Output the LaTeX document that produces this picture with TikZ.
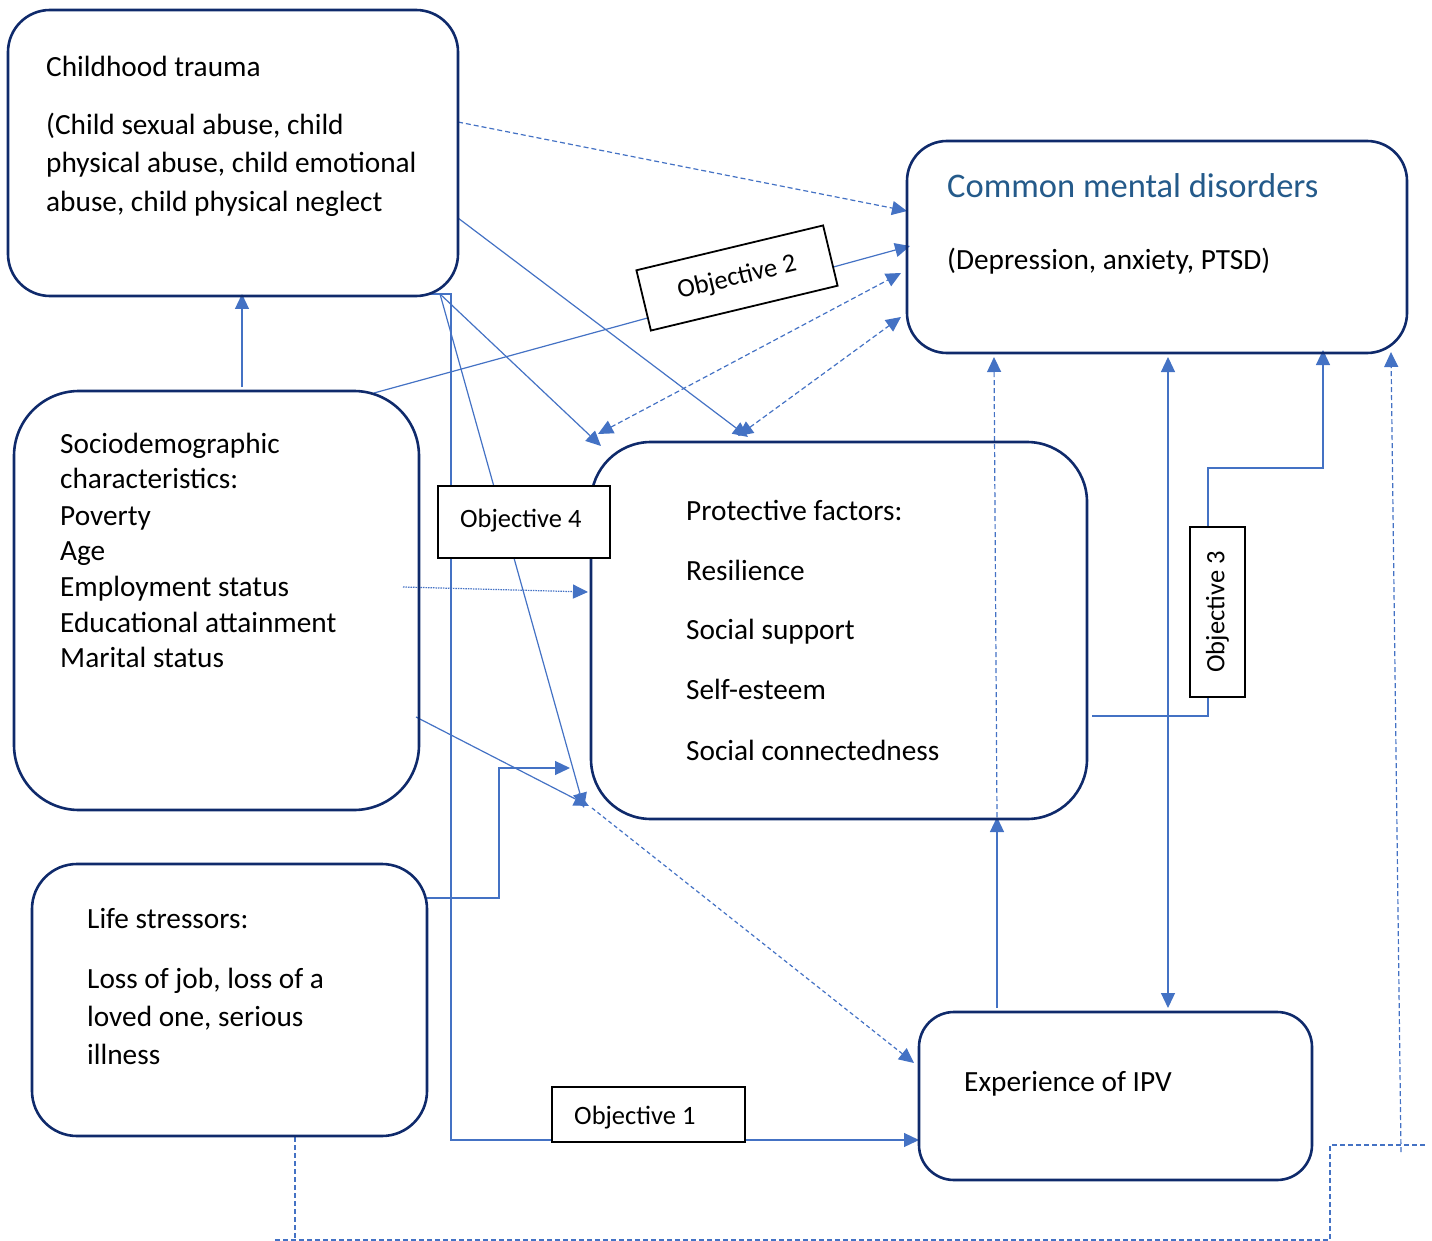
\documentclass[tikz,border=0pt]{standalone}
\usepackage{fontspec}
\setmainfont{Carlito}
\usetikzlibrary{arrows.meta}
\pgfdeclarelayer{background}
\pgfsetlayers{background,main}
\definecolor{navy}{HTML}{0F2A6B}
\definecolor{lblue}{HTML}{4472C4}
\definecolor{headblue}{HTML}{245A8A}
\begin{document}
\begin{tikzpicture}[x=1pt,y=-1pt,
  bigbox/.style={draw=navy, line width=2.6pt, inner sep=0pt},
  txt/.style={anchor=base west, inner sep=0pt, font=\fontsize{29.3}{35}\selectfont},
  objbox/.style={draw=black, line width=1.8pt, fill=white, inner sep=0pt, font=\fontsize{26.5}{32}\selectfont},
  objtxt/.style={anchor=base west, inner sep=0pt, font=\fontsize{26.5}{32}\selectfont},
  conn/.style={draw=lblue, line width=1.2pt, -{Triangle[length=15pt,width=14pt]}},
  biconn/.style={draw=lblue, line width=1.2pt, {Triangle[length=15pt,width=14pt]}-{Triangle[length=15pt,width=14pt]}},
  dashy/.style={dash pattern=on 5pt off 3pt},
  finedash/.style={dash pattern=on 4pt off 3pt},
  dotty/.style={dash pattern=on 1.5pt off 1pt},
  dline/.style={draw=lblue, line width=1.2pt, dash pattern=on 5pt off 3pt}
]
\useasboundingbox (0,0) rectangle (1432,1241);

% main boxes
\node[bigbox, rounded corners=42pt, minimum width=450pt, minimum height=286pt] (ct) at (233,153) {};
\node[bigbox, rounded corners=40pt, minimum width=500pt, minimum height=212pt] (cmd) at (1157,247) {};
\node[bigbox, rounded corners=65pt, minimum width=405pt, minimum height=419pt] (so) at (216.5,600.5) {};
\node[bigbox, rounded corners=60pt, minimum width=496pt, minimum height=377pt] (pr) at (839,630.5) {};
\node[bigbox, rounded corners=45pt, minimum width=395pt, minimum height=272pt] (ls) at (229.5,1000) {};
\node[bigbox, rounded corners=35pt, minimum width=393pt, minimum height=168pt] (ipv) at (1115.5,1096) {};

% texts
\node[txt] (ct0) at (46,77) {Childhood trauma};
\node[txt] (ct1) at (46,135) {(Child sexual abuse, child};
\node[txt] (ct2) at (46,173) {physical abuse, child emotional};
\node[txt] (ct3) at (46,212) {abuse, child physical neglect};

\node[txt, font=\fontsize{34.5}{40}\selectfont, text=headblue] (cmd0) at (947,198) {Common mental disorders};
\node[txt] (cmd1) at (947,270) {(Depression, anxiety, PTSD)};

\node[txt] (so0) at (60,453) {Sociodemographic};
\node[txt] (so1) at (60,488) {characteristics:};
\node[txt] (so2) at (60,525) {Poverty};
\node[txt] (so3) at (60,560) {Age};
\node[txt] (so4) at (60,596) {Employment status};
\node[txt] (so5) at (60,632) {Educational attainment};
\node[txt] (so6) at (60,667) {Marital status};

\node[txt] (pr0) at (686,520) {Protective factors:};
\node[txt] (pr1) at (686,580) {Resilience};
\node[txt] (pr2) at (686,639) {Social support};
\node[txt] (pr3) at (686,699) {Self-esteem};
\node[txt] (pr4) at (686,760) {Social connectedness};

\node[txt] (ls0) at (87,928) {Life stressors:};
\node[txt] (ls1) at (87,988) {Loss of job, loss of a};
\node[txt] (ls2) at (87,1026) {loved one, serious};
\node[txt] (ls3) at (87,1064) {illness};

\node[txt] (ipv0) at (964,1091) {Experience of IPV};

% objective boxes
\node[objbox, rotate=13.5, minimum width=192pt, minimum height=62pt] (ob2) at (737,278) {Objective 2};
\node[objbox, minimum width=172pt, minimum height=72pt] (ob4) at (524,522) {};
\node[objtxt] (ob4t) at (460,527) {Objective 4};
\node[objbox, rotate=90, minimum width=170pt, minimum height=55pt] (ob3) at (1217.5,612) {Objective 3};
\node[objbox, minimum width=193pt, minimum height=55pt] (ob1) at (648.5,1114.5) {};
\node[objtxt] (ob1t) at (574,1124) {Objective 1};

% connector end points
\coordinate (ctR1) at (458,122);
\coordinate (cmdL1) at (907,211);
\coordinate (soTR) at (374,393);
\coordinate (cmdL2) at (910,246);
\coordinate (prTL) at (598,434);
\coordinate (cmdL3) at (901,273);
\coordinate (prT2) at (738,436);
\coordinate (cmdL4) at (901,317);
\coordinate (ctR2) at (458,218);
\coordinate (prT3) at (748,437);
\coordinate (ctB1) at (440,294);
\coordinate (prTL2) at (601,446);
\coordinate (prBL1) at (584,808);
\coordinate (ctB2) at (430,294);
\coordinate (bend1) at (451,294);
\coordinate (ipvL) at (919,1140);
\coordinate (soT) at (242,387);
\coordinate (ctB3) at (242,294);
\coordinate (soR1) at (403,587);
\coordinate (prL1) at (588,592);
\coordinate (soR2) at (416,717);
\coordinate (prBL2) at (589,806);
\coordinate (lsR) at (427,898);
\coordinate (elb) at (499,898);
\coordinate (prL2) at (570,768);
\coordinate (prBL3) at (592,808);
\coordinate (ipvL2) at (914,1063);
\coordinate (prB1) at (997,817);
\coordinate (cmdB1) at (994,357);
\coordinate (ipvT1) at (997,1008);
\coordinate (cmdB2) at (1168,357);
\coordinate (ipvT2) at (1168,1008);
\coordinate (prR) at (1092,716);
\coordinate (o3b) at (1208,468);
\coordinate (cmdB3) at (1323,350);
\coordinate (lsB) at (295,1137);
\coordinate (dl1) at (295,1240);
\coordinate (dl0) at (275,1240);
\coordinate (dl2) at (1330,1240);
\coordinate (dl3) at (1330,1145);
\coordinate (dl4) at (1425,1145);
\coordinate (dl5) at (1401,1152);
\coordinate (cmdB4) at (1391,352);

\begin{pgfonlayer}{background}
\draw[conn, dashy] (ctR1) -- (cmdL1);
\draw[conn] (soTR) -- (cmdL2);
\draw[biconn, dashy] (prTL) -- (cmdL3);
\draw[biconn, dashy] (prT2) -- (cmdL4);
\draw[conn] (ctR2) -- (prT3);
\draw[conn] (ctB1) -- (prTL2);
\draw[conn] (ctB1) -- (prBL1);
\draw[conn] (ctB2) -- (bend1) |- (ipvL);
\draw[conn] (soT) -- (ctB3);
\draw[conn, dotty] (soR1) -- (prL1);
\draw[conn] (soR2) -- (prBL2);
\draw[conn] (lsR) -- (elb) |- (prL2);
\draw[conn, finedash] (prBL3) -- (ipvL2);
\draw[conn, dashy] (prB1) -- (cmdB1);
\draw[conn] (ipvT1) -- (prB1);
\draw[biconn] (cmdB2) -- (ipvT2);
\draw[conn] (prR) -| (o3b) -| (cmdB3);
\draw[dline] (lsB) -- (dl1);
\draw[dline] (dl0) -- (dl2) -- (dl3) -- (dl4);
\draw[conn, dashy] (dl5) -- (cmdB4);
\end{pgfonlayer}
\end{tikzpicture}
\end{document}
